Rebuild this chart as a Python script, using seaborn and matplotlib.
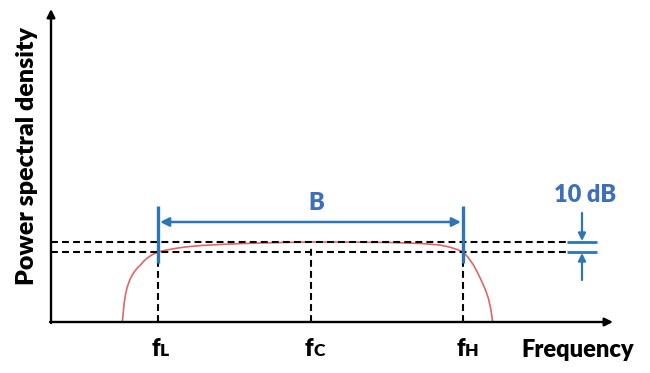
import matplotlib
matplotlib.use("Agg")
import matplotlib.pyplot as plt
import seaborn as sns
import pandas as pd

# ---- data (arbitrary frequency / PSD units) ----
curve_freq = [71.3, 72.2, 73.0, 74.3, 76.0, 77.8, 79.7, 81.6, 83.7, 86.5, 89.7, 92.8,
              96.3, 101.0, 107.0, 113.7, 124.0, 134.0, 150.0, 169.0, 190.0, 209.0,
              235.0, 260.0, 300.0, 340.0, 370.0, 389.0, 399.0, 406.0, 412.0, 417.0,
              422.3, 426.5, 430.7, 434.5, 437.3, 439.8, 441.7]
curve_psd = [0.0, 9.0, 17.3, 26.5, 34.0, 39.5, 44.0, 47.6, 50.7, 54.2, 57.3, 60.8,
             64.0, 67.2, 70.0, 71.6, 73.5, 75.0, 76.5, 77.5, 78.4, 79.0,
             79.6, 80.0, 79.9, 79.5, 78.5, 77.0, 74.8, 72.6, 70.0, 64.8,
             57.3, 49.5, 40.7, 32.0, 24.0, 13.0, 0.0]

f_L, f_C, f_H = 107.0, 260.0, 412.0
level_top, level_bottom = 80.0, 70.0
tick_names = ["L", "C", "H"]
x_label = "Frequency"
y_label = "Power spectral density"
band_label = "B"
db_label = "10 dB"

# ---- styling ----
sns.set_theme(style="white")
plt.rcParams["font.family"] = ["Lato", "DejaVu Sans"]
plt.rcParams["font.weight"] = "bold"

BLUE = "#2e75b6"
TXT_BLUE = "#3f6fb8"
RED = "#e06666"
W = "heavy"

fig = plt.figure(figsize=(6.5, 3.73), dpi=100)
ax = fig.add_axes([0, 0, 1, 1])
ax.set_xlim(-51, 599)
ax.set_ylim(-51, 322)
ax.axis("off")

df = pd.DataFrame({"freq": curve_freq, "psd": curve_psd})
sns.lineplot(data=df, x="freq", y="psd", ax=ax, color=RED, lw=1.2, sort=False,
             estimator=None)

# axes with arrows
ax.annotate("", xy=(0, 313), xytext=(0, -1),
            arrowprops=dict(arrowstyle="-|>", color="black", lw=1.7,
                            mutation_scale=12, shrinkA=0, shrinkB=0))
ax.annotate("", xy=(562, 0), xytext=(-1, 0),
            arrowprops=dict(arrowstyle="-|>", color="black", lw=1.7,
                            mutation_scale=12, shrinkA=0, shrinkB=0))

dash = (0, (3.3, 2.0))
# horizontal dashed levels
for lv in (level_top, level_bottom):
    ax.plot([0, 516], [lv, lv], color="black", lw=1.5, ls=dash)
# vertical dashed lines
ax.plot([f_L, f_L], [0, level_bottom], color="black", lw=1.5, ls=dash)
ax.plot([f_C, f_C], [0, 75], color="black", lw=1.5, ls=dash)
ax.plot([f_H, f_H], [0, level_bottom], color="black", lw=1.5, ls=dash)

# blue band edge markers
for fx in (f_L, f_H):
    ax.plot([fx, fx], [59, 116], color=BLUE, lw=2.4, solid_capstyle="butt")

# bandwidth arrow
ax.annotate("", xy=(f_H, 100), xytext=(f_L, 100),
            arrowprops=dict(arrowstyle="<|-|>", color=BLUE, lw=1.8,
                            mutation_scale=13, shrinkA=1.5, shrinkB=1.5))
ax.text((f_L + f_H) / 2 + 6, 119, band_label, color=TXT_BLUE, fontsize=17,
        fontweight=W, ha="center", va="center")

# 10 dB marker
for lv in (level_top, level_bottom):
    ax.plot([516, 546], [lv, lv], color=BLUE, lw=2.0, solid_capstyle="butt")
ax.annotate("", xy=(531, level_top + 1), xytext=(531, 109),
            arrowprops=dict(arrowstyle="-|>", color=BLUE, lw=1.6,
                            mutation_scale=11, shrinkA=0, shrinkB=0))
ax.annotate("", xy=(531, level_bottom - 1), xytext=(531, 42),
            arrowprops=dict(arrowstyle="-|>", color=BLUE, lw=1.6,
                            mutation_scale=11, shrinkA=0, shrinkB=0))
ax.text(534, 127, db_label, color=TXT_BLUE, fontsize=17, fontweight=W,
        ha="center", va="center")

# frequency tick labels f_L, f_C, f_H
for fx, sub in zip((f_L, f_C, f_H), tick_names):
    ax.text(fx + 2, -34, "f", fontsize=17, fontweight=W, color="black",
            ha="right", va="baseline")
    ax.text(fx + 2, -34, sub, fontsize=12.5, fontweight=W, color="black",
            ha="left", va="baseline")

ax.text(527, -28, x_label, fontsize=17, fontweight=W, color="black",
        ha="center", va="center")
ax.text(-24, 166, y_label, fontsize=18, fontweight=W, color="black",
        ha="center", va="center", rotation=90)

fig.savefig("out.png", dpi=100)
